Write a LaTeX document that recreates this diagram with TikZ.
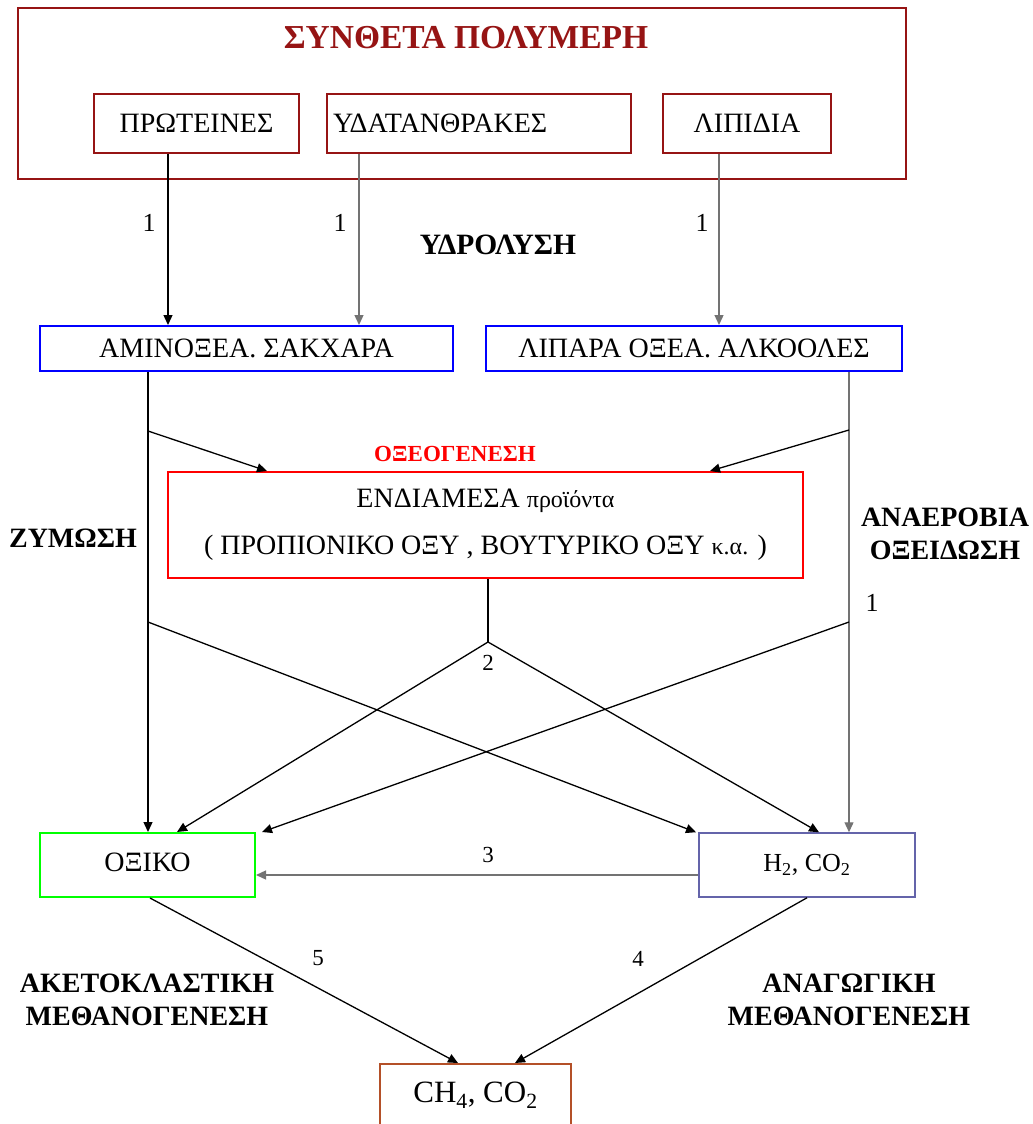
\documentclass[tikz,border=0pt]{standalone}
\usepackage{fontspec}
\setmainfont{Liberation Serif}
\usetikzlibrary{arrows.meta}
\definecolor{polyred}{RGB}{150,20,20}
\definecolor{slatebox}{RGB}{100,100,170}
\definecolor{brownbox}{RGB}{180,80,40}
\tikzset{
  box/.style={draw, line width=2pt, inner sep=0pt, font=\fontsize{28}{32}\selectfont},
  arr/.style={line width=1.3pt, -{Triangle[length=10pt,width=9pt]}},
  arrg/.style={arr, draw=black!55},
  plain/.style={line width=1.3pt},
  blbl/.style={inner sep=0pt, align=center, font=\fontsize{28}{33}\selectfont\bfseries},
  num/.style={inner sep=0pt, font=\fontsize{26}{28}\selectfont},
}
\begin{document}
\begin{tikzpicture}[x=1pt,y=-1pt]
\useasboundingbox (0,0) rectangle (1033,1124);
% top group
\node[draw=polyred, line width=2pt, minimum width=888pt, minimum height=171pt, inner sep=0pt] (poly) at (462,93.5) {};
\node[inner sep=0pt, text=polyred, font=\fontsize{33.5}{37}\selectfont\bfseries] (title) at (466,38) {ΣΥΝΘΕΤΑ ΠΟΛΥΜΕΡΗ};
\node[box, draw=polyred, minimum width=205pt, minimum height=59pt] (prot) at (196.5,123.5) {ΠΡΩΤΕΙΝΕΣ};
\node[box, draw=polyred, minimum width=304pt, minimum height=59pt, text width=292pt, align=left] (carb) at (479,123.5) {ΥΔΑΤΑΝΘΡΑΚΕΣ};
\node[box, draw=polyred, minimum width=168pt, minimum height=59pt] (lip) at (747,123.5) {ΛΙΠΙΔΙΑ};
% second level
\node[box, draw=blue, minimum width=413pt, minimum height=45pt] (amino) at (246.5,348.5) {ΑΜΙΝΟΞΕΑ. ΣΑΚΧΑΡΑ};
\node[box, draw=blue, minimum width=416pt, minimum height=45pt] (lipara) at (694,348.5) {ΛΙΠΑΡΑ ΟΞΕΑ. ΑΛΚΟΟΛΕΣ};
% intermediate
\node[box, draw=red, minimum width=635pt, minimum height=106pt, align=center, font=\fontsize{28}{47}\selectfont] (inter) at (485.5,525) {ΕΝΔΙΑΜΕΣΑ {\fontsize{24}{26}\selectfont προϊόντα}\\( ΠΡΟΠΙΟΝΙΚΟ ΟΞΥ , ΒΟΥΤΥΡΙΚΟ ΟΞΥ {\fontsize{24}{26}\selectfont κ.α.} )};
% products
\node[box, draw=green, minimum width=215pt, minimum height=64pt] (acetic) at (147.5,865) {\raisebox{5pt}{ΟΞΙΚΟ}};
\node[box, draw=slatebox, line width=1.5pt, minimum width=216pt, minimum height=64pt, font=\fontsize{26}{30}\selectfont] (h2) at (807,865) {\raisebox{3pt}{H\textsubscript{2}, CO\textsubscript{2}}};
\node[box, draw=brownbox, minimum width=191pt, minimum height=62pt, font=\fontsize{31}{34}\selectfont] (ch4) at (475.5,1095) {CH\textsubscript{4}, CO\textsubscript{2}};
% labels
\node[blbl, font=\fontsize{29.5}{33}\selectfont\bfseries] (hydro) at (498,245) {ΥΔΡΟΛΥΣΗ};
\node[inner sep=0pt, text=red, font=\fontsize{23}{26}\selectfont\bfseries] (oxeo) at (455,454) {ΟΞΕΟΓΕΝΕΣΗ};
\node[blbl] (zym) at (73,538) {ΖΥΜΩΣΗ};
\node[blbl] (anaer) at (945,534) {ΑΝΑΕΡΟΒΙΑ\\ΟΞΕΙΔΩΣΗ};
\node[blbl] (aceto) at (147,1000) {ΑΚΕΤΟΚΛΑΣΤΙΚΗ\\ΜΕΘΑΝΟΓΕΝΕΣΗ};
\node[blbl] (anag) at (849,1000) {ΑΝΑΓΩΓΙΚΗ\\ΜΕΘΑΝΟΓΕΝΕΣΗ};
\node[num] (n1a) at (149,223) {1};
\node[num] (n1b) at (340,223) {1};
\node[num] (n1c) at (702,223) {1};
\node[num] (n1d) at (872,603) {1};
\node[num, font=\fontsize{23}{26}\selectfont] (n2) at (488,663) {2};
\node[num, font=\fontsize{23}{26}\selectfont] (n3) at (488,855) {3};
\node[num, font=\fontsize{23}{26}\selectfont] (n5) at (318,958) {5};
\node[num, font=\fontsize{23}{26}\selectfont] (n4) at (638,959) {4};
% branch points
\coordinate (bL1) at (148,431);
\coordinate (bR1) at (849,430);
\coordinate (bL2) at (148,622);
\coordinate (bR2) at (849,622);
\coordinate (mid) at (488,642);
% hydrolysis
\draw[arr] (prot.south -| 168,0) -- (amino.north -| 168,0);
\draw[arrg] (carb.south -| 359,0) -- (amino.north -| 359,0);
\draw[arrg] (lip.south -| 719,0) -- (lipara.north -| 719,0);
% verticals
\draw[arr] (amino.south -| 148,0) -- (acetic.north -| 148,0);
\draw[arrg] (lipara.south -| 849,0) -- (h2.north -| 849,0);
% acidogenesis
\draw[arr] (bL1) -- (inter.north -| 267,0);
\draw[arr] (bR1) -- (inter.north -| 710,0);
% from intermediate
\draw[plain] (inter.south -| 488,0) -- (mid);
\draw[arr] (mid) -- (acetic.north -| 177,0);
\draw[arr] (mid) -- (h2.north -| 819,0);
% crossings
\draw[arr] (bL2) -- (h2.north -| 696,0);
\draw[arr] (bR2) -- (acetic.north -| 262,0);
% H2 -> acetic
\draw[arrg] (h2.west |- 0,875) -- (acetic.east |- 0,875);
% methanogenesis
\draw[arr] (acetic.south -| 150,0) -- (ch4.north -| 458,0);
\draw[arr] (h2.south -| 807,0) -- (ch4.north -| 515,0);
\end{tikzpicture}
\end{document}
